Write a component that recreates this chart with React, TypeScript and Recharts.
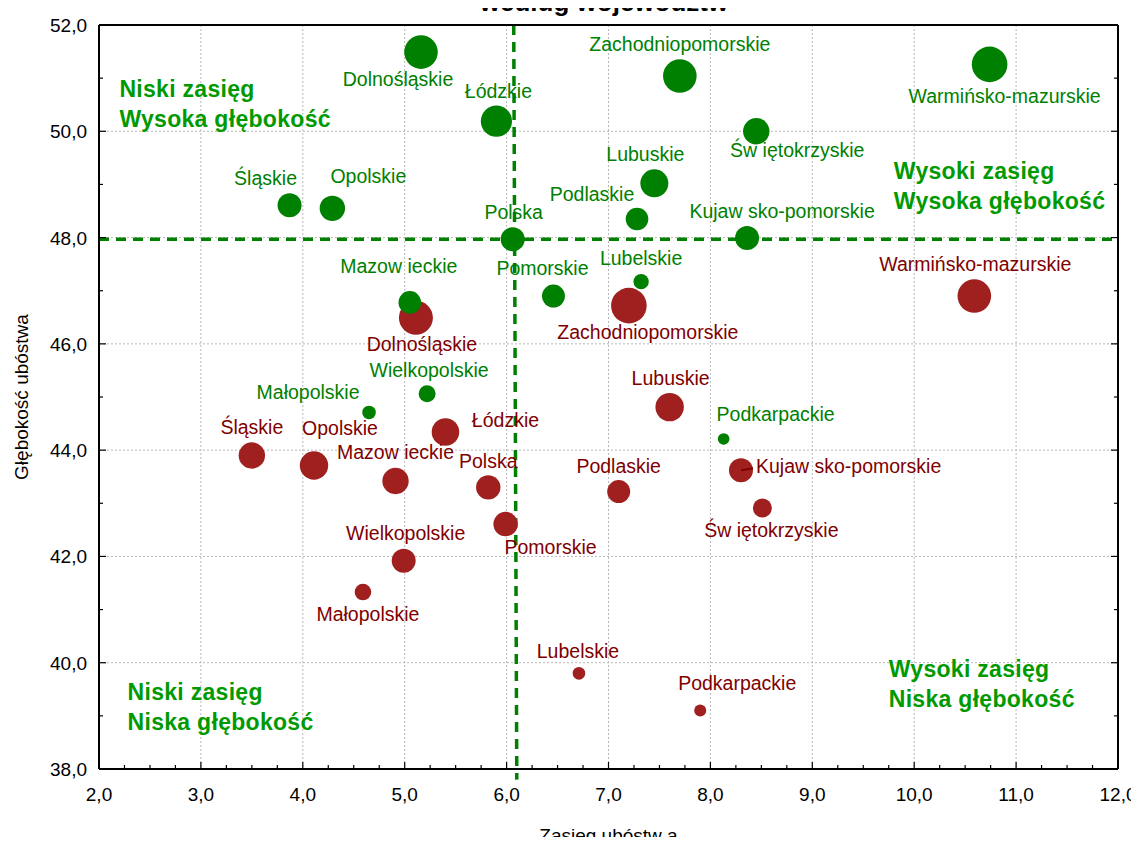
import { ScatterChart, Scatter, XAxis, YAxis, ZAxis, CartesianGrid, ReferenceLine } from "recharts"

// województwa (labels as printed on the chart)
const regions = [
  "Polska",
  "Dolnośląskie",
  "Kujaw sko-pomorskie",
  "Lubelskie",
  "Lubuskie",
  "Łódzkie",
  "Małopolskie",
  "Mazow ieckie",
  "Opolskie",
  "Podkarpackie",
  "Podlaskie",
  "Pomorskie",
  "Śląskie",
  "Św iętokrzyskie",
  "Warmińsko-mazurskie",
  "Wielkopolskie",
  "Zachodniopomorskie",
]

// green series
const greenRange = [6.06, 5.16, 8.36, 7.32, 7.45, 5.9, 4.65, 5.05, 4.29, 8.13, 7.28, 6.46, 3.87, 8.45, 10.74, 5.22, 7.7]
const greenDepth = [47.97, 51.49, 47.99, 47.17, 49.02, 50.19, 44.71, 46.78, 48.55, 44.21, 48.35, 46.9, 48.61, 50.0, 51.26, 45.06, 51.04]
const greenBubble = [144, 282, 144, 59, 196, 243, 46, 128, 161, 34, 128, 132, 144, 174, 317, 72, 282]

// red series
const redRange = [5.82, 5.11, 8.3, 6.71, 7.6, 5.4, 4.59, 4.91, 4.11, 7.9, 7.1, 5.99, 3.5, 8.51, 10.59, 4.99, 7.2]
const redDepth = [43.3, 46.49, 43.62, 39.8, 44.81, 44.34, 41.33, 43.42, 43.71, 39.1, 43.22, 42.61, 43.9, 42.91, 46.9, 41.92, 46.72]
const redBubble = [149, 289, 144, 40, 202, 190, 69, 174, 202, 36, 132, 149, 174, 90, 282, 144, 317]

const xTickValues = Array.from({ length: 41 }, (_, i) => 2 + i * 0.25)
const yTickValues = Array.from({ length: 15 }, (_, i) => 38 + i)
const xGrid = [3, 4, 5, 6, 7, 8, 9, 10, 11]
const yGrid = [40, 42, 44, 46, 48, 50]

const meanDepth = 47.97

// quadrant captions
const quadrants = [
  { x: 2.2, y: 50.65, lines: ["Niski zasięg", "Wysoka głębokość"] },
  { x: 9.8, y: 49.11, lines: ["Wysoki zasięg", "Wysoka głębokość"] },
  { x: 2.28, y: 39.3, lines: ["Niski zasięg", "Niska głębokość"] },
  { x: 9.75, y: 39.74, lines: ["Wysoki zasięg", "Niska głębokość"] },
]

// label placement relative to bubble centre: [dx, dy, anchor, leader]
const greenLabelPos: Record<string, [number, number, string?, boolean?]> = {
  "Polska": [1, -27],
  "Dolnośląskie": [-23, 27],
  "Kujaw sko-pomorskie": [35, -27],
  "Lubelskie": [0, -24],
  "Lubuskie": [-9, -29],
  "Łódzkie": [2, -30],
  "Małopolskie": [-61, -20],
  "Mazow ieckie": [-11, -36],
  "Opolskie": [36, -32],
  "Podkarpackie": [52, -25],
  "Podlaskie": [-45, -25],
  "Pomorskie": [-11, -28],
  "Śląskie": [-24, -27],
  "Św iętokrzyskie": [41, 19],
  "Warmińsko-mazurskie": [15, 32],
  "Wielkopolskie": [2, -24],
  "Zachodniopomorskie": [0, -32],
}

const redLabelPos: Record<string, [number, number, string?, boolean?]> = {
  "Polska": [0, -26],
  "Dolnośląskie": [6, 26],
  "Kujaw sko-pomorskie": [15, -4, "start", true],
  "Lubelskie": [-1, -22],
  "Lubuskie": [1, -29],
  "Łódzkie": [60, -12],
  "Małopolskie": [5, 22],
  "Mazow ieckie": [0, -29],
  "Opolskie": [26, -38],
  "Podkarpackie": [37, -28],
  "Podlaskie": [0, -26],
  "Pomorskie": [45, 23],
  "Śląskie": [0, -28],
  "Św iętokrzyskie": [9, 22],
  "Warmińsko-mazurskie": [1, -32],
  "Wielkopolskie": [2, -28],
  "Zachodniopomorskie": [19, 26],
}

const FONT = "Arial, 'Liberation Sans', sans-serif"
const GREEN = "#008000"
const RED = "#a02020"
const RED_TEXT = "#800000"

const rows = (xs: number[], ys: number[], zs: number[]) =>
  regions.map((name, i) => ({ name, x: xs[i], y: ys[i], z: zs[i] }))

const greenData = rows(greenRange, greenDepth, greenBubble)
const redData = rows(redRange, redDepth, redBubble)

const fmt = (v: number) => v.toFixed(1).replace(".", ",")
const isMajor = (v: number) => Math.abs(v - Math.round(v)) < 1e-6

function BottomTick({ x, y, payload }: any) {
  const major = isMajor(payload.value)
  return (
    <g>
      <line x1={x} x2={x} y1={y} y2={y - (major ? 7 : 4)} stroke="#000" strokeWidth={1.2} />
      {major && (
        <text x={x} y={y + 32} textAnchor="middle" fontSize={19} fontFamily={FONT} fill="#000">
          {fmt(payload.value)}
        </text>
      )}
    </g>
  )
}

function TopTick({ x, y, payload }: any) {
  const major = isMajor(payload.value)
  return <line x1={x} x2={x} y1={y} y2={y + (major ? 7 : 4)} stroke="#000" strokeWidth={1.2} />
}

function LeftTick({ x, y, payload }: any) {
  const major = payload.value % 2 === 0
  return (
    <g>
      <line x1={x} x2={x + (major ? 7 : 4)} y1={y} y2={y} stroke="#000" strokeWidth={1.2} />
      {major && (
        <text x={x - 12} y={y + 7} textAnchor="end" fontSize={19} fontFamily={FONT} fill="#000">
          {fmt(payload.value)}
        </text>
      )}
    </g>
  )
}

function RightTick({ x, y, payload }: any) {
  const major = payload.value % 2 === 0
  return <line x1={x} x2={x - (major ? 7 : 4)} y1={y} y2={y} stroke="#000" strokeWidth={1.2} />
}

const labelShape = (pos: typeof greenLabelPos, color: string) => (props: any) => {
  const { cx, cy, payload } = props
  const [dx, dy, anchor = "middle", leader] = pos[payload.name]
  return (
    <g>
      {leader && <line x1={cx} y1={cy} x2={cx + dx - 3} y2={cy + dy + 2} stroke={color} strokeWidth={2} />}
      <text x={cx + dx} y={cy + dy + 7} textAnchor={anchor} fontSize={19.5} fontFamily={FONT} fill={color}>
        {payload.name}
      </text>
    </g>
  )
}

const quadrantShape = (props: any) => {
  const { cx, cy, payload } = props
  return (
    <text x={cx} y={cy} fontSize={23} fontWeight="bold" fontFamily={FONT} fill="#009a00" letterSpacing={0.3}>
      {payload.lines.map((line: string, i: number) => (
        <tspan key={i} x={cx} y={cy + i * 30}>
          {line}
        </tspan>
      ))}
    </text>
  )
}

export default function App() {
  return (
    <div style={{ margin: -8, position: "relative", width: 1139, height: 845, background: "#fff" }}>
      <ScatterChart width={1139} height={845} margin={{ top: 24, right: 20, bottom: 0, left: 0 }}>
        <CartesianGrid stroke="#b8b8b8" strokeDasharray="2 2" verticalValues={xGrid} horizontalValues={yGrid} />
        <XAxis
          type="number"
          dataKey="x"
          domain={[2, 12]}
          ticks={xTickValues}
          interval={0}
          tick={<BottomTick />}
          tickLine={false}
          tickSize={0}
          tickMargin={0}
          height={76}
          allowDataOverflow
          axisLine={{ stroke: "#000", strokeWidth: 2 }}
          label={{ value: "Zasięg ubóstw a", position: "insideBottom", offset: 3, fontSize: 19, fontFamily: FONT, fill: "#000" }}
        />
        <XAxis
          xAxisId="top"
          orientation="top"
          type="number"
          domain={[2, 12]}
          ticks={xTickValues}
          interval={0}
          tick={<TopTick />}
          tickLine={false}
          tickSize={0}
          tickMargin={0}
          height={1}
          allowDataOverflow
          axisLine={{ stroke: "#000", strokeWidth: 2 }}
        />
        <YAxis
          type="number"
          dataKey="y"
          domain={[38, 52]}
          ticks={yTickValues}
          interval={0}
          tick={<LeftTick />}
          tickLine={false}
          tickSize={0}
          tickMargin={0}
          width={99}
          allowDataOverflow
          axisLine={{ stroke: "#000", strokeWidth: 2 }}
          label={{
            value: "Głębokość ubóstwa",
            angle: -90,
            position: "insideLeft",
            offset: 21,
            fontSize: 19,
            fontFamily: FONT,
            fill: "#000",
            style: { textAnchor: "middle" },
          }}
        />
        <YAxis
          yAxisId="right"
          orientation="right"
          type="number"
          domain={[38, 52]}
          ticks={yTickValues}
          interval={0}
          tick={<RightTick />}
          tickLine={false}
          tickSize={0}
          tickMargin={0}
          width={1}
          allowDataOverflow
          axisLine={{ stroke: "#000", strokeWidth: 2 }}
        />
        <ZAxis type="number" dataKey="z" domain={[0, 400]} range={[0, 400 * Math.PI]} />
        <ReferenceLine y={meanDepth} stroke={GREEN} strokeWidth={3.5} strokeDasharray="10 7" />
        <ReferenceLine
          segment={[
            { x: 6.07, y: 52 },
            { x: 6.1, y: 37.8 },
          ]}
          ifOverflow="visible"
          stroke={GREEN}
          strokeWidth={3.5}
          strokeDasharray="10 7"
        />
        <Scatter data={redData} fill={RED} isAnimationActive={false} />
        <Scatter data={greenData} fill={GREEN} isAnimationActive={false} />
        <Scatter data={redData} shape={labelShape(redLabelPos, RED_TEXT)} isAnimationActive={false} />
        <Scatter data={greenData} shape={labelShape(greenLabelPos, GREEN)} isAnimationActive={false} />
        <Scatter data={quadrants} shape={quadrantShape} isAnimationActive={false} />
      </ScatterChart>
      <svg width={1139} height={22} style={{ position: "absolute", left: 0, top: 0, pointerEvents: "none" }}>
        <text x={604} y={11} textAnchor="middle" fontSize={26} fontWeight="bold" fontFamily={FONT} fill="#000">
          według województw
        </text>
      </svg>
    </div>
  )
}
